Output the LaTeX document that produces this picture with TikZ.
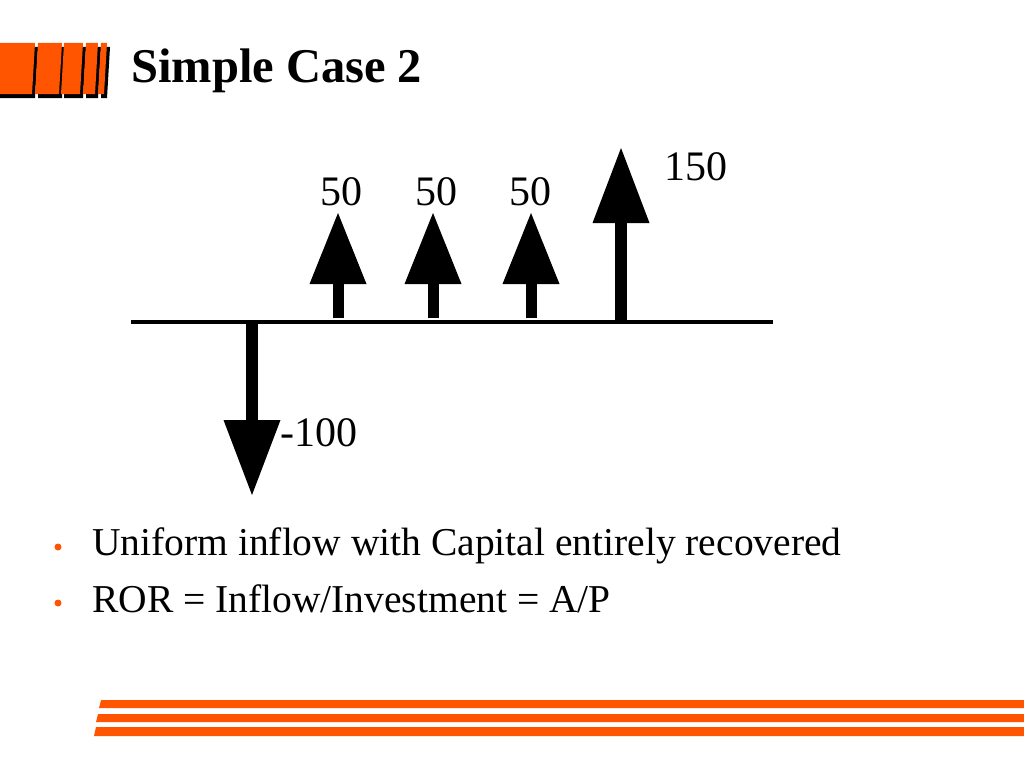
\documentclass[tikz,border=0pt]{standalone}
\usepackage{fontspec}
\setmainfont{Liberation Serif}
\usetikzlibrary{arrows.meta}
\definecolor{slideorange}{RGB}{255,85,0}

\begin{document}
\begin{tikzpicture}[x=1pt, y=-1pt,
		axis_style/.style={draw=black,line width=4pt},
		flow_style/.style={draw=black,line width=11pt,
			-{Triangle[length=71pt,width=57pt,line width=0pt]}},
		big_flow_style/.style={draw=black,line width=12pt,
			-{Triangle[length=75pt,width=57pt,line width=0pt]}},
		label_style/.style={anchor=base,inner sep=0pt,font=\fontsize{42}{46}\selectfont},
		bullet_style/.style={circle,fill=slideorange,inner sep=0pt,minimum size=7pt},
		text_style/.style={anchor=base west,inner sep=0pt,font=\fontsize{39.5}{44}\selectfont}]

	\useasboundingbox[fill=white] (0,0) rectangle (1024,768);

	% logo
	\foreach \a/\b in {0/35, 38/62, 64/83, 86/98, 101/107} {
		\fill[black] (\a+3,47) -- (\b+3,47) -- (\b,98) -- (\a,98) -- cycle;
		\fill[slideorange] (\a,43) -- (\b,43) -- (\b-3,94) -- (\a-3,94) -- cycle;
	}
	\node[anchor=base west,inner sep=0pt,font=\fontsize{48.5}{52}\selectfont\bfseries] (title) at (131,82) {Simple Case 2};

	% time line
	\coordinate (t0) at (131,322);
	\coordinate (t1) at (773,322);
	\draw[axis_style] (t0) -- (t1);

	% cash flows
	\coordinate (b0) at (252,322);
	\coordinate (e0) at (252,495);
	\coordinate (b1) at (338,318);
	\coordinate (e1) at (338,213);
	\coordinate (b2) at (433,318);
	\coordinate (e2) at (433,213);
	\coordinate (b3) at (531,318);
	\coordinate (e3) at (531,213);
	\coordinate (b4) at (621,322);
	\coordinate (e4) at (621,148);

	\draw[big_flow_style] (b0) -- (e0);
	\draw[flow_style] (b1) -- (e1);
	\draw[flow_style] (b2) -- (e2);
	\draw[flow_style] (b3) -- (e3);
	\draw[big_flow_style] (b4) -- (e4);

	\node[label_style] (l0) at (319,446) {-100};
	\node[label_style] (l1) at (341,205) {50};
	\node[label_style] (l2) at (436,205) {50};
	\node[label_style] (l3) at (530,205) {50};
	\node[label_style] (l4) at (696,180) {150};

	% bullets
	\node[bullet_style] (d1) at (58,547) {};
	\node[text_style] (p1) at (92,555) {Uniform inflow with Capital entirely recovered};
	\node[bullet_style] (d2) at (58,603) {};
	\node[text_style] (p2) at (92,612) {ROR = Inflow/Investment = A/P};

	% bottom stripes
	\fill[slideorange] (101,700) -- (1024,700) -- (1024,708) -- (99,708) -- cycle;
	\fill[slideorange] (98,714) -- (1024,714) -- (1024,722) -- (96,722) -- cycle;
	\fill[slideorange] (96,727) -- (1024,727) -- (1024,736) -- (94,736) -- cycle;
\end{tikzpicture}
\end{document}
